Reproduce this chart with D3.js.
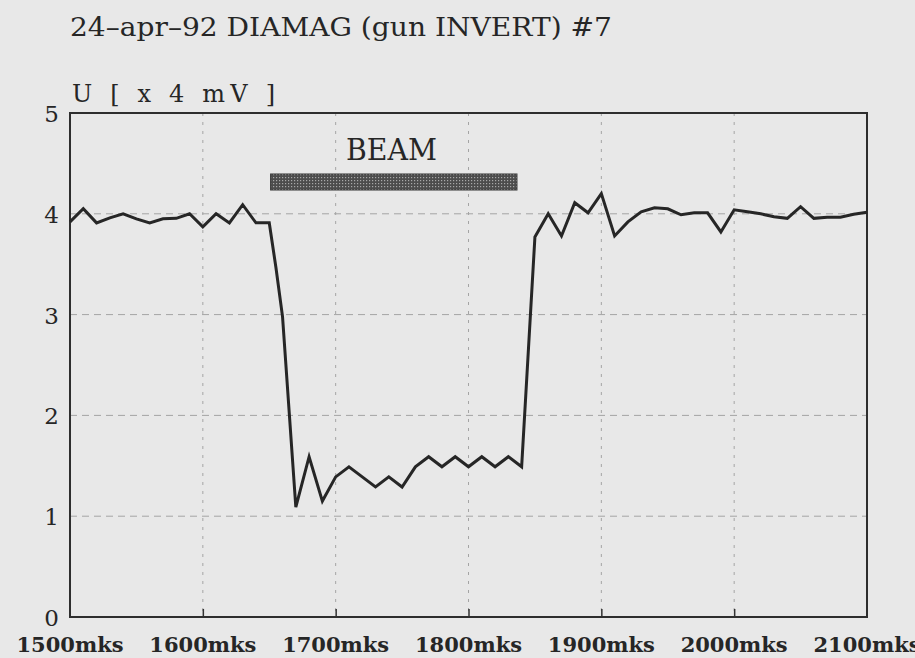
<!DOCTYPE html>
<html lang="en">
<head>
<title>DIAMAG gun invert #7</title>
<meta charset="utf-8">

<script src="https://d3js.org/d3.v7.min.js"></script>

<style type="text/css">

  body {
    margin: 0;
    background: #e8e8e8;
  }

  text {
    font-family: 'DejaVu Serif', serif;
    fill: #262626;
  }

</style>

</head>

<body>

<div id="chart"></div>

<script>


/* Data */
/* ==== */

// time in mks, signal U in units of 4 mV
var times = [1500, 1510, 1520, 1530, 1540, 1550, 1560, 1570, 1580, 1590,
             1600, 1610, 1620, 1630, 1640, 1650, 1655, 1660, 1670, 1680,
             1690, 1700, 1710, 1720, 1730, 1740, 1750, 1760, 1770, 1780,
             1790, 1800, 1810, 1820, 1830, 1840, 1850, 1860, 1870, 1880,
             1890, 1900, 1910, 1920, 1930, 1940, 1950, 1960, 1970, 1980,
             1990, 2000, 2010, 2020, 2030, 2040, 2050, 2060, 2070, 2080,
             2090, 2100];

var values = [3.92, 4.05, 3.91, 3.96, 4.00, 3.95, 3.91, 3.95, 3.955, 4.00,
              3.87, 4.00, 3.91, 4.09, 3.91, 3.91, 3.47, 2.98, 1.09, 1.59,
              1.15, 1.39, 1.49, 1.39, 1.29, 1.39, 1.29, 1.49, 1.59, 1.49,
              1.59, 1.49, 1.59, 1.49, 1.59, 1.49, 3.77, 4.00, 3.78, 4.11,
              4.01, 4.20, 3.78, 3.92, 4.02, 4.06, 4.05, 3.99, 4.01, 4.01,
              3.82, 4.04, 4.02, 4.00, 3.97, 3.955, 4.07, 3.955, 3.965, 3.965,
              3.995, 4.015];

var xTicks = [1500, 1600, 1700, 1800, 1900, 2000, 2100];
var yTicks = [0, 1, 2, 3, 4, 5];

// beam on interval and bar level
var beamTime = [1651, 1836.5];
var beamLevel = [4.236, 4.395];

var titleText = '24\u2013apr\u201392  DIAMAG (gun INVERT)  #7',
    unitText = 'U [ x 4 mV ]',
    beamText = 'BEAM';


/* Set up svg and scales */
/* ===================== */

var width = 915,
    height = 658,
    plot = { left: 70, right: 867, top: 113, bottom: 617 };

var svg = d3.select('#chart').append('svg')
    .attr('width', width)
    .attr('height', height);

svg.append('rect')
    .attr('width', width)
    .attr('height', height)
    .attr('fill', '#e8e8e8');

var x = d3.scaleLinear()
    .domain([1500, 2100])
    .range([plot.left, plot.right]);

var y = d3.scaleLinear()
    .domain([0, 5])
    .range([plot.bottom, plot.top]);

// halftone texture for the beam bar
var pattern = svg.append('defs').append('pattern')
    .attr('id', 'halftone')
    .attr('width', 3)
    .attr('height', 3)
    .attr('patternUnits', 'userSpaceOnUse');

pattern.append('rect')
    .attr('width', 3)
    .attr('height', 3)
    .attr('fill', '#4c4c4c');

pattern.append('rect')
    .attr('width', 1.2)
    .attr('height', 1.2)
    .attr('fill', '#a8a8a8');


/* Grid */
/* ==== */

svg.append('g')
    .selectAll('line')
    .data(xTicks.slice(1, -1))
    .join('line')
    .attr('x1', function(d) { return x(d); })
    .attr('x2', function(d) { return x(d); })
    .attr('y1', plot.top)
    .attr('y2', plot.bottom)
    .attr('stroke', '#a4a4a4')
    .attr('stroke-width', 1)
    .attr('stroke-dasharray', '3,6');

svg.append('g')
    .selectAll('line')
    .data(yTicks.slice(1, -1))
    .join('line')
    .attr('x1', plot.left)
    .attr('x2', plot.right)
    .attr('y1', function(d) { return y(d); })
    .attr('y2', function(d) { return y(d); })
    .attr('stroke', '#a4a4a4')
    .attr('stroke-width', 1)
    .attr('stroke-dasharray', '7,5');


/* Axes */
/* ==== */

var xAxis = svg.append('g')
    .attr('transform', 'translate(0,' + plot.bottom + ')')
    .call(d3.axisTop(x)
      .tickValues(xTicks.slice(1, -1))
      .tickSize(8)
      .tickFormat(''));

xAxis.select('.domain').remove();
xAxis.selectAll('line').attr('stroke', '#333').attr('stroke-width', 1.5);

svg.append('g')
    .selectAll('text')
    .data(xTicks)
    .join('text')
    .attr('x', function(d) { return x(d); })
    .attr('y', 652)
    .attr('text-anchor', 'middle')
    .attr('font-size', 21)
    .attr('font-weight', 'bold')
    .text(function(d) { return d + 'mks'; });

svg.append('g')
    .selectAll('text')
    .data(yTicks)
    .join('text')
    .attr('x', 59)
    .attr('y', function(d) { return y(d) + 9; })
    .attr('text-anchor', 'end')
    .attr('font-size', 23)
    .text(function(d) { return d; });

// plot frame
svg.append('rect')
    .attr('x', plot.left)
    .attr('y', plot.top)
    .attr('width', plot.right - plot.left)
    .attr('height', plot.bottom - plot.top)
    .attr('fill', 'none')
    .attr('stroke', '#2e2e2e')
    .attr('stroke-width', 2);


/* Beam bar */
/* ======== */

svg.append('rect')
    .attr('x', x(beamTime[0]))
    .attr('y', y(beamLevel[1]))
    .attr('width', x(beamTime[1]) - x(beamTime[0]))
    .attr('height', y(beamLevel[0]) - y(beamLevel[1]))
    .attr('fill', 'url(#halftone)')
    .attr('stroke', '#3a3a3a')
    .attr('stroke-width', 1);

svg.append('text')
    .attr('x', 346)
    .attr('y', 160)
    .attr('font-size', 30)
    .attr('textLength', 91)
    .attr('lengthAdjust', 'spacingAndGlyphs')
    .text(beamText);


/* Signal line */
/* =========== */

var points = times.map(function(t, i) { return [t, values[i]]; });

var line = d3.line()
    .x(function(d) { return x(d[0]); })
    .y(function(d) { return y(d[1]); });

svg.append('path')
    .datum(points)
    .attr('d', line)
    .attr('fill', 'none')
    .attr('stroke', '#262626')
    .attr('stroke-width', 3)
    .attr('stroke-linejoin', 'miter');


/* Titles */
/* ====== */

svg.append('text')
    .attr('x', 70)
    .attr('y', 36)
    .attr('font-size', 26)
    .attr('textLength', 542)
    .attr('lengthAdjust', 'spacingAndGlyphs')
    .text(titleText);

svg.append('text')
    .attr('x', 72)
    .attr('y', 102)
    .attr('font-size', 24)
    .attr('textLength', 203)
    .attr('lengthAdjust', 'spacing')
    .text(unitText);

</script>

</body>
</html>
